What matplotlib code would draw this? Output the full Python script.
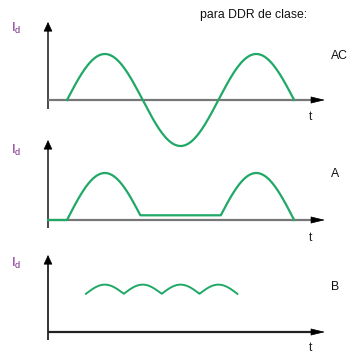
import numpy as np
import matplotlib
matplotlib.use("Agg")
import matplotlib.pyplot as plt

plt.rcParams['font.family'] = ['Liberation Sans', 'DejaVu Sans']

# Panel definitions (time in radians of the supply period, current in units of peak)
panel_labels = ["AC", "A", "B"]
header_text = "para DDR de clase:"
x_label = "t"

# Waveform parameters
ac_span = (0.0, 3 * np.pi)          # one and a half sine periods
a_leak = 0.1                        # residual current level in class A
a_span = (0.0, 3 * np.pi)
b_span = (np.pi / 4, 9 * np.pi / 4) # smoothed ripple region
b_base = 0.83
b_ripple = 0.2

GREEN = "#20a866"
PURPLE = "#7b2a8a"

W, H = 350, 356
fig = plt.figure(figsize=(W / 100, H / 100), dpi=100)

# horizontal mapping shared by all panels: pixels = x0 + t * sx
x0_px, sx = 67.0, 24.1
t_axis = (48 - x0_px) / sx
t_tip = (325 - x0_px) / sx

def make_panel(zero_py, sy):
    ax = fig.add_axes([0, 0, 1, 1])
    ax.set_xlim(-x0_px / sx, (W - x0_px) / sx)
    ax.set_ylim((zero_py - H) / sy, zero_py / sy)
    ax.axis("off")
    ax.patch.set_alpha(0)
    return ax

def draw_axes(ax, v_top, v_bottom, ycol, xcol, sy):
    ax.plot([t_axis, t_axis], [v_bottom, v_top - 6 / sy], color=ycol, lw=1.3,
            solid_capstyle="butt")
    ax.annotate("", xy=(t_axis, v_top), xytext=(t_axis, v_top - 8 / sy),
                arrowprops=dict(arrowstyle="-|>,head_length=0.6,head_width=0.28",
                                color="black", lw=0.5, shrinkA=0, shrinkB=0,
                                mutation_scale=10))
    ax.plot([t_axis, t_tip - 10 / sx], [0, 0], color=xcol, lw=1.6,
            solid_capstyle="butt")
    ax.annotate("", xy=(t_tip, 0), xytext=(t_tip - 12 / sx, 0),
                arrowprops=dict(arrowstyle="-|>,head_length=0.9,head_width=0.22",
                                color="black", lw=0.5, shrinkA=0, shrinkB=0,
                                mutation_scale=10))

def label_text(px, py, s, **kw):
    fig.text(px / W, 1 - py / H, s, **kw)

# ---- Panel AC ----
sy1 = 46.0
ax1 = make_panel(100, sy1)
draw_axes(ax1, (100 - 22) / sy1, -9 / sy1, "#3a3a3a", "#777777", sy1)
t = np.linspace(*ac_span, 600)
ax1.plot(t, np.sin(t), color=GREEN, lw=1.6)

# ---- Panel A ----
sy2 = 47.0
ax2 = make_panel(220, sy2)
draw_axes(ax2, (220 - 140) / sy2, -8 / sy2, "#3a3a3a", "#777777", sy2)
t = np.linspace(*a_span, 800)
s = np.sin(t)
inner = (t > np.pi / 2) & (t < 2.5 * np.pi)
va = np.where(inner, np.maximum(s, a_leak), s)
t_a = np.concatenate([[t_axis], t])
v_a = np.concatenate([[0.0], va])
ax2.plot(t_a, v_a, color=GREEN, lw=1.6)

# ---- Panel B ----
sy3 = 46.0
ax3 = make_panel(332, sy3)
draw_axes(ax3, (332 - 255) / sy3, -8 / sy3, "#222222", "#222222", sy3)
t = np.linspace(*b_span, 600)
vb = b_base + b_ripple * np.abs(np.sin(2 * (t - b_span[0])))
ax3.plot(t, vb, color=GREEN, lw=1.4)

# ---- Text ----
label_text(254, 15, header_text, fontsize=8.8, ha="center", va="center", color="#111111")
for py, lab in zip([56, 174, 287], panel_labels):
    label_text(331, py, lab, fontsize=8.8, ha="left", va="center", color="#111111")
for py in [117, 238, 348]:
    label_text(311, py, x_label, fontsize=8.8, ha="center", va="center", color="#222222")
for py in [28, 150, 263]:
    label_text(11, py, r"$\mathregular{I_d}$", fontsize=9.5, ha="left", va="center",
               color=PURPLE)

fig.savefig("out.png", dpi=100)
